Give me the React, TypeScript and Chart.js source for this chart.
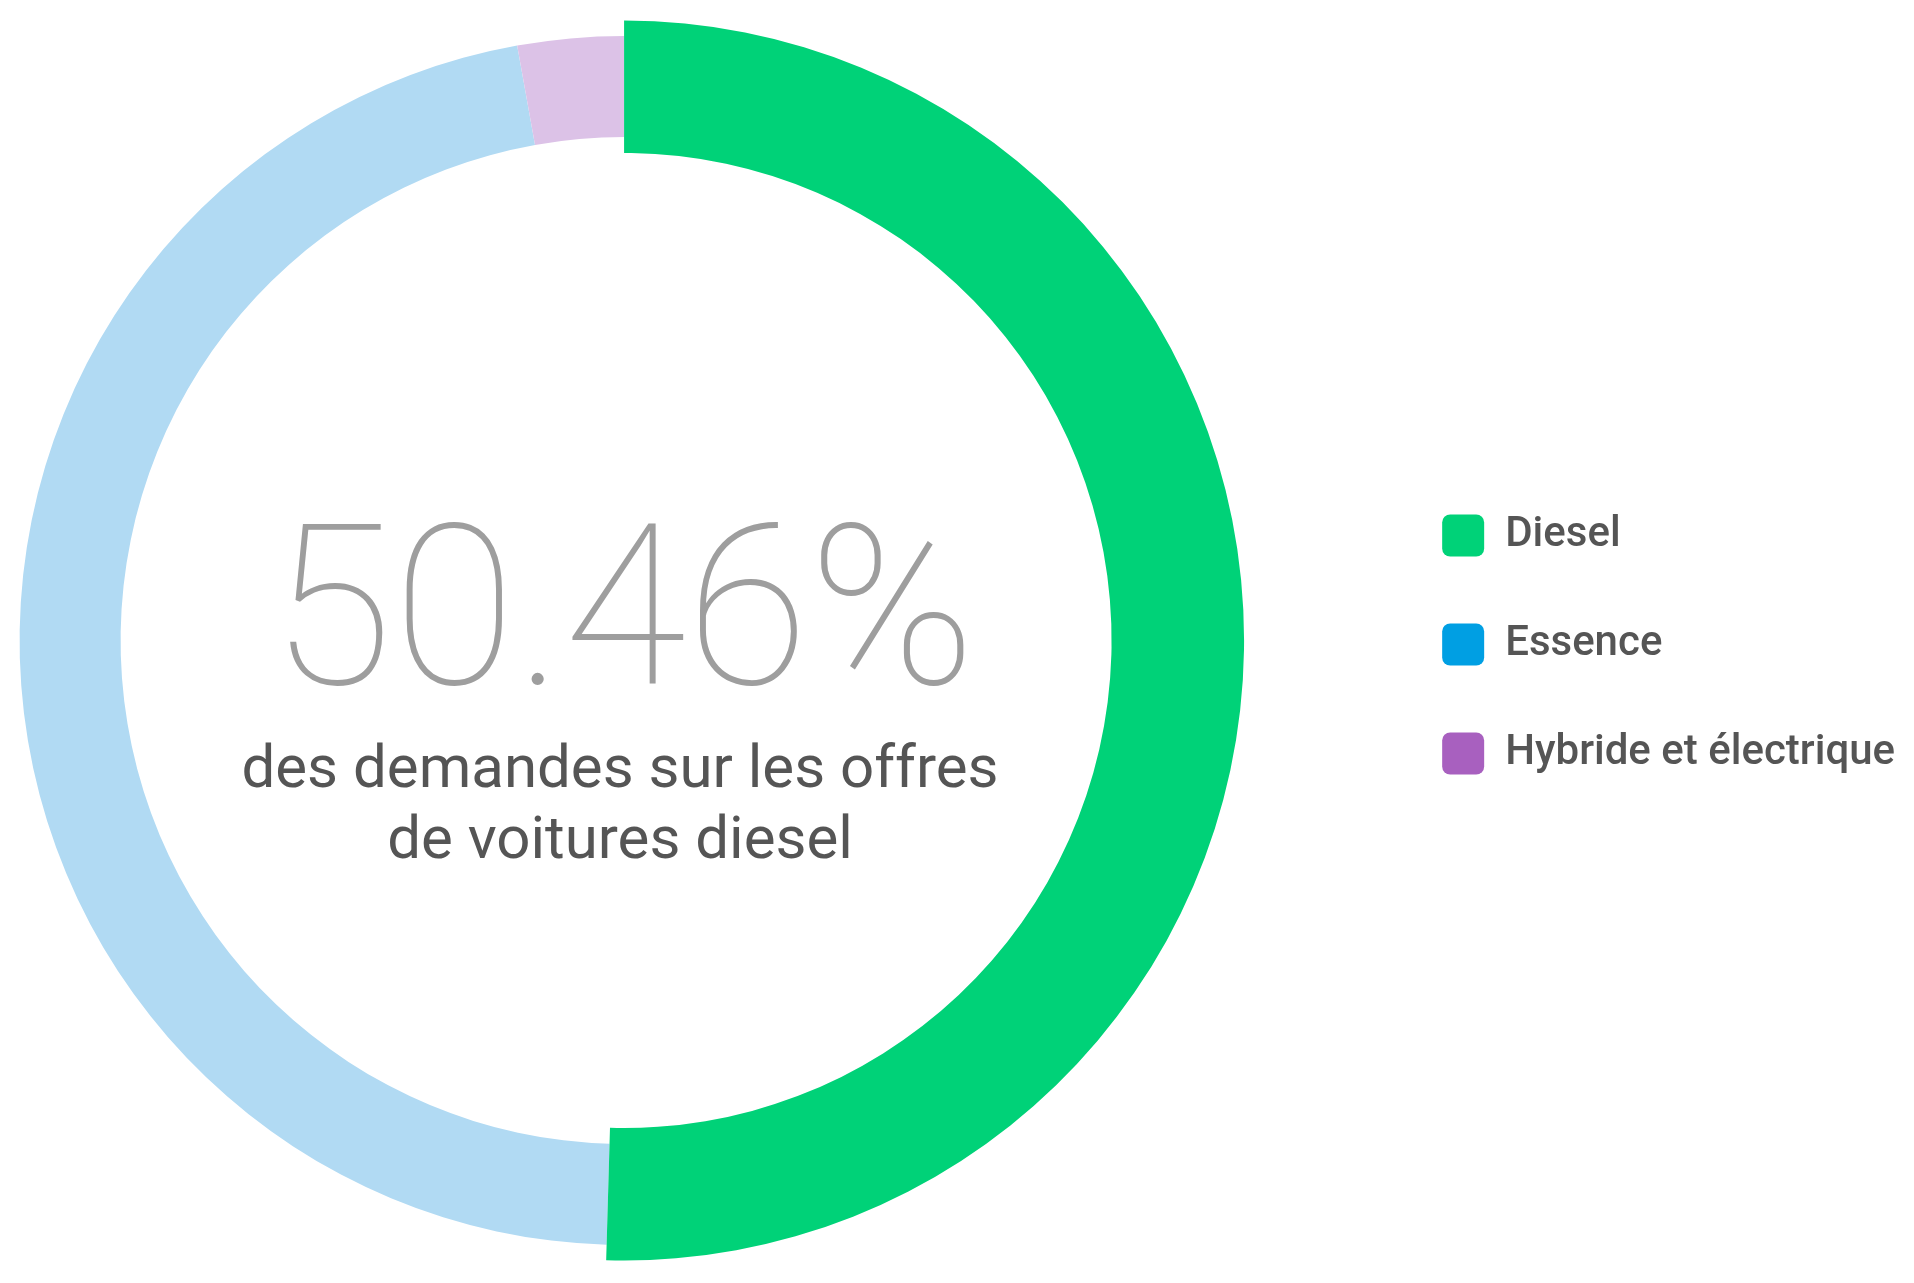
import React, { useEffect, useRef } from "react";
import { Chart, registerables } from "chart.js";

Chart.register(...registerables);

const categories = ["Diesel", "Essence", "Hybride et électrique"];
const shares = [50.46, 46.71, 2.83];
const legendColors = ["#00d278", "#009fe3", "#a860bf"];
const ringColors = ["#00d278", "#b1daf3", "#dcc2e7"];
const headline = "50.46%";
const subtitleLines = ["des demandes sur les offres", "de voitures diesel"];

const CANVAS_SHIFT = 127;

export default function App() {
  const ref = useRef<HTMLCanvasElement | null>(null);

  useEffect(() => {
    document.body.style.margin = "0";
    document.body.style.overflow = "hidden";
    const canvas = ref.current;
    if (!canvas) return;
    const chart = new Chart(canvas, {
      type: "doughnut",
      data: {
        labels: categories,
        datasets: [
          {
            data: shares,
            backgroundColor: ringColors.map((c, i) => (i === 0 ? c : "rgba(0,0,0,0)")),
            borderWidth: 0,
            weight: 1,
            radius: 620,
            cutout: "57.258%",
          } as any,
          {
            data: shares,
            backgroundColor: ringColors.map((c, i) => (i === 0 ? "rgba(0,0,0,0)" : c)),
            borderWidth: 0,
            weight: 1,
            radius: 705.5,
            cutout: "71.368%",
          } as any,
        ],
      },
      options: {
        responsive: false,
        animation: false,
        events: [],
        layout: { padding: { left: 0, right: 9, top: 0, bottom: 2 } },
        plugins: {
          tooltip: { enabled: false },
          legend: {
            display: true,
            position: "right",
            title: {
              display: true,
              text: " ",
              padding: 0,
              font: { size: 8, lineHeight: 1 },
            },
            labels: {
              boxWidth: 42,
              boxHeight: 42,
              padding: 67,
              color: "#555555",
              useBorderRadius: true,
              borderRadius: 8,
              font: { family: "Roboto", size: 42, weight: "500" },
              generateLabels: () =>
                categories.map((label, i) => ({
                  text: label,
                  fillStyle: legendColors[i],
                  strokeStyle: legendColors[i],
                  lineWidth: 0,
                  borderRadius: 8,
                  fontColor: "#555555",
                  hidden: false,
                  index: i,
                })),
            },
          } as any,
        },
      },
    });
    return () => chart.destroy();
  }, []);

  return (
    <div style={{ position: "relative", width: 1914, height: 1283, overflow: "hidden", background: "#ffffff" }}>
      <canvas
        ref={ref}
        width={1914 + CANVAS_SHIFT}
        height={1283}
        style={{ position: "absolute", left: -CANVAS_SHIFT, top: 0, width: 1914 + CANVAS_SHIFT, height: 1283 }}
      />
      <div
        style={{
          position: "absolute",
          left: 0,
          top: 496,
          width: 1246,
          textAlign: "center",
          fontFamily: "Roboto",
          fontWeight: 100,
          fontSize: 224,
          lineHeight: "224px",
          color: "#9e9e9e",
          whiteSpace: "nowrap",
        }}
      >
        {headline}
      </div>
      <div
        style={{
          position: "absolute",
          left: 0,
          top: 731,
          width: 1240,
          textAlign: "center",
          fontFamily: "Roboto",
          fontWeight: 400,
          fontSize: 60,
          lineHeight: "71px",
          color: "#555555",
          whiteSpace: "nowrap",
        }}
      >
        {subtitleLines.map((l, i) => (
          <div key={i}>{l}</div>
        ))}
      </div>
    </div>
  );
}
